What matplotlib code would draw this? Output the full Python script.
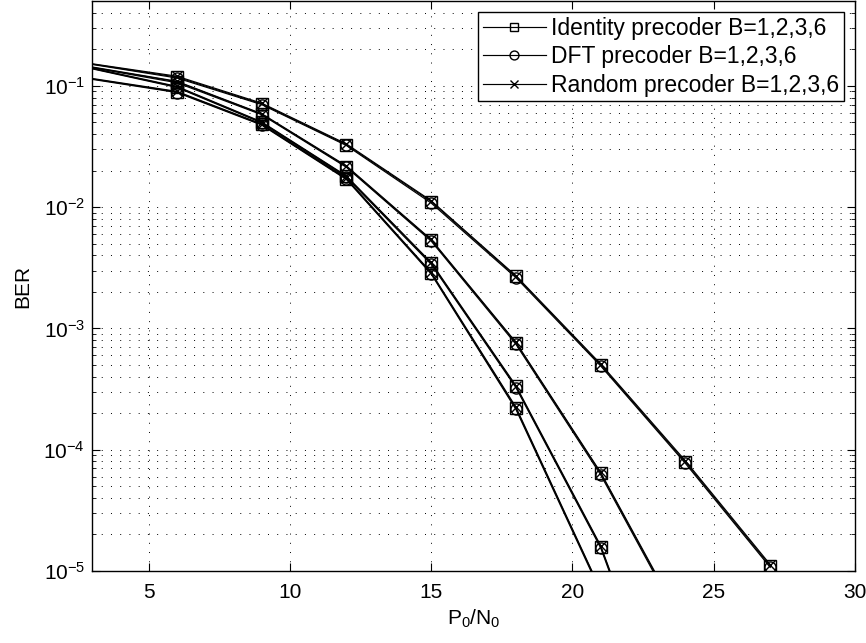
import numpy as np
import matplotlib
matplotlib.use('Agg')
import matplotlib.pyplot as plt
from matplotlib.ticker import LogLocator, NullFormatter, FixedLocator

plt.rcParams['font.family'] = ['Liberation Sans', 'DejaVu Sans']
plt.rcParams['mathtext.fontset'] = 'custom'
plt.rcParams['mathtext.rm'] = 'Liberation Sans'
plt.rcParams['mathtext.it'] = 'Liberation Sans:italic'

nan = np.nan
snr_db = [3, 6, 9, 12, 15, 18, 21, 24, 27]

# Identity precoder, B = 1, 2, 3, 6
identity_B1 = [0.151, 0.118, 0.071, 0.0327, 0.0111, 0.00268, 5.0e-4, 7.9e-5, 1.10e-5]
identity_B2 = [0.142, 0.108, 0.0585, 0.0216, 0.00535, 7.6e-4, 6.4e-5, 3.3e-6, nan]
identity_B3 = [0.139, 0.098, 0.0500, 0.0179, 0.00345, 3.32e-4, 1.59e-5, 2.0e-7, nan]
identity_B6 = [0.114, 0.089, 0.0480, 0.0171, 0.00286, 2.2e-4, 6.9e-6, nan, nan]

# DFT precoder, B = 1, 2, 3, 6
dft_B1 = [0.150, 0.116, 0.070, 0.0322, 0.0108, 0.00262, 4.9e-4, 7.7e-5, 1.07e-5]
dft_B2 = [0.141, 0.106, 0.0578, 0.0213, 0.00525, 7.4e-4, 6.2e-5, 3.2e-6, nan]
dft_B3 = [0.138, 0.097, 0.0495, 0.0176, 0.00338, 3.25e-4, 1.55e-5, 1.9e-7, nan]
dft_B6 = [0.113, 0.088, 0.0475, 0.0169, 0.00281, 2.15e-4, 6.7e-6, nan, nan]

# Random precoder, B = 1, 2, 3, 6
random_B1 = [0.152, 0.120, 0.072, 0.0332, 0.0113, 0.00272, 5.1e-4, 8.1e-5, 1.13e-5]
random_B2 = [0.143, 0.109, 0.0590, 0.0219, 0.00542, 7.7e-4, 6.5e-5, 3.4e-6, nan]
random_B3 = [0.140, 0.099, 0.0505, 0.0181, 0.00350, 3.38e-4, 1.62e-5, 2.1e-7, nan]
random_B6 = [0.115, 0.090, 0.0485, 0.0173, 0.00290, 2.25e-4, 7.0e-6, nan, nan]

legend_labels = ['Identity precoder B=1,2,3,6',
                 'DFT precoder B=1,2,3,6',
                 'Random precoder B=1,2,3,6']
x_ticks = [5, 10, 15, 20, 25, 30]
y_major = [1e-5, 1e-4, 1e-3, 1e-2, 1e-1]

groups = [
    ([identity_B1, identity_B2, identity_B3, identity_B6], 's'),
    ([dft_B1, dft_B2, dft_B3, dft_B6], 'o'),
    ([random_B1, random_B2, random_B3, random_B6], 'x'),
]

W, H = 866, 643
fig = plt.figure(figsize=(W / 100, H / 100), dpi=100)
ax = fig.add_axes([92 / W, 72 / H, (855 - 92) / W, 570 / H])

handles = []
for (series, mk), lab in zip(groups, legend_labels):
    for i, ys in enumerate(series):
        ln, = ax.plot(snr_db, ys, color='k', linewidth=0.85, marker=mk,
                      markersize=8 if mk != 'x' else 7, markerfacecolor='none',
                      markeredgecolor='k', markeredgewidth=1.0,
                      markevery=slice(1, None))
        if i == 0:
            handles.append(ln)

ax.set_yscale('log')
ax.set_xlim(3, 30)
ax.set_ylim(1e-5, 0.5)
ax.xaxis.set_major_locator(FixedLocator(x_ticks))
ax.yaxis.set_major_locator(FixedLocator(y_major))
ax.yaxis.set_minor_locator(LogLocator(base=10, subs=np.arange(2, 10)))
ax.yaxis.set_minor_formatter(NullFormatter())

grid_kw = dict(color='k', linestyle=(0, (1, 8.5)), linewidth=0.7)
ax.grid(True, which='major', axis='both', **grid_kw)
ax.grid(True, which='minor', axis='y', **grid_kw)

ax.tick_params(axis='both', which='major', direction='in', length=6, width=0.8,
               top=True, right=True, labelsize=15)
ax.tick_params(axis='x', which='major', pad=9)
ax.tick_params(axis='y', which='major', pad=5)
ax.tick_params(axis='both', which='minor', direction='in', length=3, width=0.6,
               top=True, right=True)
for sp in ax.spines.values():
    sp.set_linewidth(1.0)

ax.set_xlabel(r'P$_0$/N$_0$', fontsize=15, labelpad=4)
ax.set_ylabel('BER', fontsize=15, labelpad=8)

leg = ax.legend(handles, legend_labels, loc='upper right',
                bbox_to_anchor=(1.0, 1.0), fontsize=16.5, frameon=True,
                fancybox=False, framealpha=1, edgecolor='k',
                handlelength=2.75, handletextpad=0.25, borderpad=0.18,
                labelspacing=0.24, borderaxespad=0.5, markerscale=0.8)
leg.get_frame().set_linewidth(1.0)

fig.savefig('out.png', dpi=100)
